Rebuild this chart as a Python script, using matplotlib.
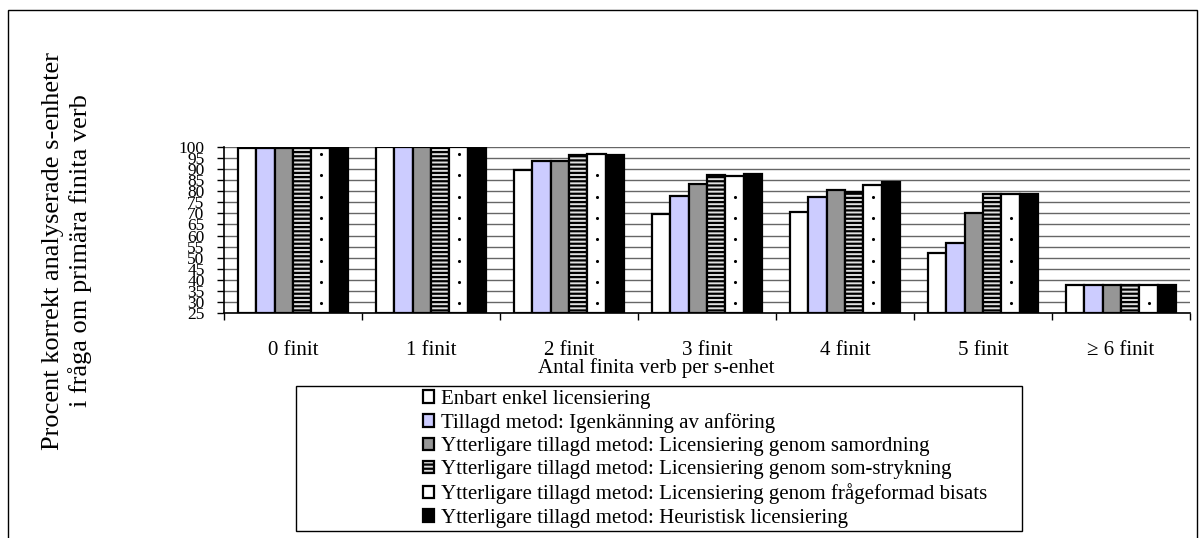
import matplotlib
matplotlib.use('Agg')
import matplotlib.pyplot as plt
from matplotlib.patches import Patch, Rectangle
import numpy as np

plt.rcParams['font.family'] = ['Liberation Serif', 'DejaVu Serif']
plt.rcParams['hatch.linewidth'] = 1.6

# data
categories = ['0 finit', '1 finit', '2 finit', '3 finit', '4 finit', '5 finit', '\u2265 6 finit']
enkel = [99.5, 100, 89.6, 69.6, 70.5, 52.2, 37.6]
anforing = [99.5, 100, 93.4, 77.7, 77.4, 56.5, 37.6]
samordning = [99.5, 100, 93.4, 83.4, 80.7, 70.0, 37.6]
somstrykning = [99.5, 100, 96.2, 87.3, 79.7, 78.6, 37.6]
frageformad = [99.5, 100, 96.5, 87.0, 82.7, 78.6, 37.6]
heuristisk = [99.5, 100, 96.4, 87.6, 84.3, 78.6, 37.6]

labels = ['Enbart enkel licensiering',
          'Tillagd metod: Igenkänning av anföring',
          'Ytterligare tillagd metod: Licensiering genom samordning',
          'Ytterligare tillagd metod: Licensiering genom som-strykning',
          'Ytterligare tillagd metod: Licensiering genom frågeformad bisats',
          'Ytterligare tillagd metod: Heuristisk licensiering']
yticks = list(range(25, 101, 5))

series = [enkel, anforing, samordning, somstrykning, frageformad, heuristisk]
styles = [dict(facecolor='white', hatch=None),
          dict(facecolor='#CCCCFF', hatch=None),
          dict(facecolor='#969696', hatch=None),
          dict(facecolor='#E0E0E0', hatch='----'),
          dict(facecolor='white', hatch=None),   # sparse dots drawn below
          dict(facecolor='black', hatch=None)]

W, H = 1203, 538
fig = plt.figure(figsize=(W / 100, H / 100), dpi=100)

# outer chart border (bottom is cut off in the original)
fig.patches.append(Rectangle((8 / W, -0.1), 1189 / W, 1.1 - 10 / H, transform=fig.transFigure,
                             fill=False, edgecolor='black', lw=1))

left, right, top, bottom = 224, 1190, 146.7, 313.3
ax = fig.add_axes([left / W, 1 - bottom / H, (right - left) / W, (bottom - top) / H])

x = np.arange(len(categories))
n = len(series)
bw = 0.8 / n
for i, (vals, st) in enumerate(zip(series, styles)):
    xs = x - 0.4 + bw * (i + 0.5)
    ax.bar(xs, np.array(vals) - 25, bw, bottom=25,
           facecolor=st['facecolor'], hatch=st['hatch'], edgecolor='black',
           linewidth=1.6, zorder=3)
    if i == 4:
        # sparse dotted pattern of the "frågeformad bisats" bars
        for xc, v in zip(xs, vals):
            dy = np.arange(29.5, v - 2, 9.6)
            ax.scatter(np.full(len(dy), xc), dy, s=5, color='black', zorder=4, linewidths=0)

ax.set_xlim(-0.5, len(categories) - 0.5)
ax.set_ylim(25, 100)
ax.set_yticks(yticks)
ax.set_yticklabels([str(v) for v in yticks], fontsize=12.5)
ax.yaxis.grid(True, color='#666666', lw=1, zorder=0)
ax.set_axisbelow(True)
ax.tick_params(axis='y', direction='out', length=5, width=1, pad=9)

# category ticks between groups, labels centered
ax.set_xticks(np.arange(len(categories) + 1) - 0.5)
ax.set_xticklabels([])
ax.set_xticks(x, minor=True)
ax.set_xticklabels(categories, minor=True, fontsize=15)
ax.tick_params(axis='x', which='major', direction='out', length=5, width=1)
ax.tick_params(axis='x', which='minor', length=0, pad=20)

for s in ['top', 'right']:
    ax.spines[s].set_visible(False)
for s in ['left', 'bottom']:
    ax.spines[s].set_linewidth(1.2)

fig.text(656 / W, 1 - 368 / H, 'Antal finita verb per s-enhet', ha='center', va='center', fontsize=15)
fig.text(67 / W, 1 - 251 / H, 'Procent korrekt analyserade s-enheter\ni fråga om primära finita verb',
         rotation=90, ha='center', va='center', multialignment='center', fontsize=19, linespacing=1.2)

# legend box and entries
fig.patches.append(Rectangle((296 / W, 1 - 531 / H), 726 / W, 145 / H, transform=fig.transFigure,
                             fill=True, facecolor='white', edgecolor='black', lw=1))
handles = [Patch(facecolor=st['facecolor'], hatch=st['hatch'], edgecolor='black', linewidth=1.6)
           for st in styles]
fig.legend(handles, labels, loc='upper left', bbox_to_anchor=(423 / W, 1 - 390 / H),
           frameon=False, fontsize=15, handlelength=0.55, handleheight=0.55,
           handletextpad=0.3, labelspacing=0.2, borderpad=0, borderaxespad=0)

fig.savefig('out.png', dpi=100)
